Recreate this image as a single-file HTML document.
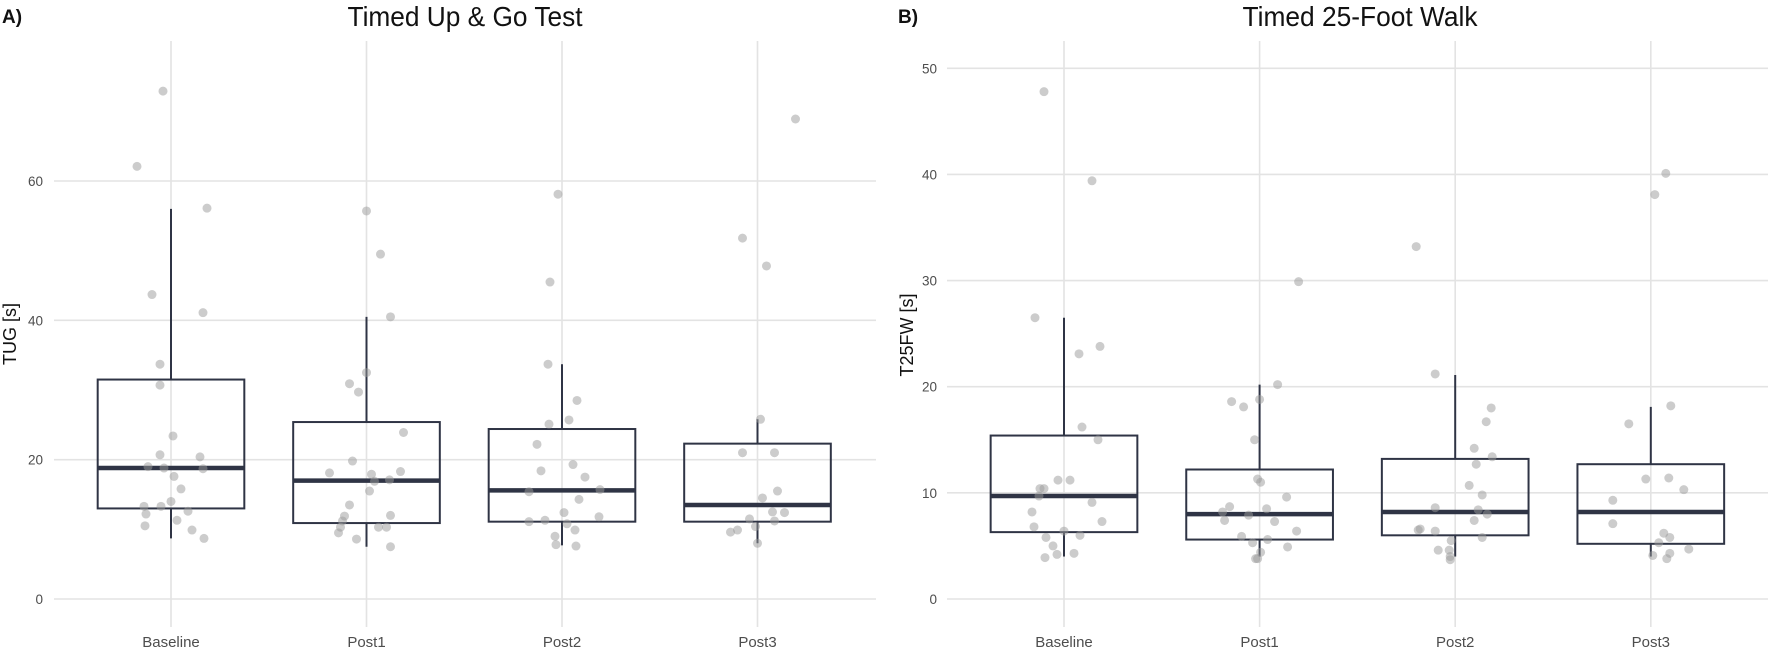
<!DOCTYPE html>
<html><head><meta charset="utf-8">
<style>
body{margin:0;background:#fff;}
svg{display:block;font-family:"Liberation Sans",sans-serif;}
</style></head>
<body>
<svg id="chart" width="1772" height="649" viewBox="0 0 1772 649" xmlns="http://www.w3.org/2000/svg"></svg>
<script>
const categories = ["Baseline","Post1","Post2","Post3"];
// Panel A: TUG box stats [lowWhisker, q1, median, q3, highWhisker]
const tugBoxes = [[8.7,13.0,18.8,31.5,56.0],[7.5,10.9,17.0,25.4,40.5],[7.7,11.1,15.6,24.4,33.7],[8.0,11.1,13.5,22.3,25.8]];
const tugPoints = [
 [72.9,62.1,56.1,43.7,41.1,33.7,30.7,23.4,20.7,20.4,19.0,18.8,18.7,17.6,15.8,14.0,13.3,13.3,12.6,12.2,11.3,10.5,9.9,8.7],
 [55.7,49.5,40.5,32.5,30.9,29.7,23.9,19.8,18.1,18.3,17.9,16.9,17.1,15.5,13.5,11.9,12.0,11.2,10.3,10.3,10.3,9.5,8.6,7.5],
 [58.1,45.5,33.7,28.5,25.7,25.1,22.2,18.4,19.3,17.5,15.4,15.7,14.3,12.4,11.8,11.1,11.3,10.8,9.9,9.0,7.8,7.6],
 [68.9,51.8,47.8,25.8,21.0,21.0,15.5,14.5,12.5,12.4,11.5,11.2,9.9,9.6,10.4,8.0]];
const tugJitter = [
 [-8,-34,36,-19,32,-11,-11,2,-11,29,-23,-7,32,3,10,0,-27,-10,17,-25,6,-26,21,33],
 [0,14,24,0,-17,-8,37,-14,-37,34,5,8,23,3,-17,-22,24,-24,-26,12,20,-28,-10,24],
 [-4,-12,-14,15,7,-13,-25,-21,11,23,-33,38,17,2,37,-33,-17,5,13,-7,-6,14],
 [38,-15,9,3,-15,17,20,5,15,27,-8,17,-20,-27,-2,0]];
const tugTicks = [0,20,40,60];
// Panel B: T25FW
const twBoxes = [[4.0,6.3,9.7,15.4,26.5],[4.0,5.6,8.0,12.2,20.2],[4.0,6.0,8.2,13.2,21.1],[4.0,5.2,8.2,12.7,18.1]];
const twPoints = [
 [47.8,39.4,26.5,23.8,23.1,16.2,15.0,11.2,11.2,10.4,10.4,9.7,9.1,8.2,7.3,6.8,6.4,6.0,5.8,5.0,4.2,4.3,3.9],
 [29.9,20.2,18.6,18.8,18.1,15.0,11.3,11.0,9.6,8.7,8.5,8.2,7.9,7.4,7.3,6.4,5.9,5.6,5.3,4.9,4.4,3.8,3.8],
 [33.2,21.2,18.0,16.7,14.2,13.4,12.7,10.7,9.8,8.6,8.4,8.0,7.4,6.5,6.6,6.4,5.8,5.5,4.6,4.6,4.0,3.7],
 [40.1,38.1,18.2,16.5,11.4,11.3,10.3,9.3,7.1,6.2,5.8,5.3,4.7,4.3,4.1,3.8]];
const twJitter = [
 [-20,28,-29,36,15,18,34,-6,6,-24,-20,-25,28,-32,38,-30,0,16,-18,-11,-7,10,-19],
 [39,18,-28,0,-16,-5,-2,1,27,-30,7,-37,-11,-35,15,37,-18,8,-7,28,1,-4,-2],
 [-39,-20,36,31,19,37,21,14,27,-20,23,32,19,-37,-35,-20,27,-4,-17,-6,-5,-5],
 [15,4,20,-22,18,-5,33,-38,-38,13,19,8,38,19,2,16]];
const twTicks = [0,10,20,30,40,50];

const NS="http://www.w3.org/2000/svg";
const svg=document.getElementById('chart');
function mk(tag,attrs,parent){const e=document.createElementNS(NS,tag);for(const k in attrs)e.setAttribute(k,attrs[k]);(parent||svg).appendChild(e);return e;}

function panel(cfg){
  const g=mk('g',{});
  
  
  const y=v=>cfg.y0-(v-0)*cfg.pxPerUnit;
  const x=i=>cfg.x0+i*cfg.band;
  cfg.ticks.forEach(t=>{
    const l=mk('line',{x1:cfg.left,x2:cfg.right,y1:y(t),y2:y(t),stroke:'#e3e3e3','stroke-width':1.6},g);
    
    
    const tx=mk('text',{x:cfg.tickX,y:y(t)+5,'text-anchor':'end','font-size':13.5,fill:'#4d4d4d'},g);
    tx.textContent=t;
    
    
  });
  categories.forEach((c,i)=>{
    const l=mk('line',{x1:x(i),x2:x(i),y1:41,y2:627,stroke:'#e3e3e3','stroke-width':1.6},g);
    
    
    const tx=mk('text',{x:x(i),y:647,'text-anchor':'middle','font-size':15,fill:'#4d4d4d'},g);
    tx.textContent=c;
    
    
  });
  cfg.boxes.forEach((b,i)=>{
    const cx=x(i), hw=cfg.band*0.375;
    const bg=mk('g',{},g);
    
    
    mk('line',{x1:cx,x2:cx,y1:y(b[4]),y2:y(b[3]),stroke:'#2f3445','stroke-width':2},bg);
    mk('line',{x1:cx,x2:cx,y1:y(b[1]),y2:y(b[0]),stroke:'#2f3445','stroke-width':2},bg);
    mk('rect',{x:cx-hw,y:y(b[3]),width:2*hw,height:y(b[1])-y(b[3]),fill:'none',stroke:'#2f3445','stroke-width':2},bg);
    mk('line',{x1:cx-hw,x2:cx+hw,y1:y(b[2]),y2:y(b[2]),stroke:'#2f3445','stroke-width':4.5},bg);
  });
  cfg.points.forEach((arr,i)=>{
    arr.forEach((v,j)=>{
      const p=mk('circle',{cx:x(i)+cfg.jitter[i][j],cy:y(v),r:4.5,fill:'#9a9a9a','fill-opacity':0.5},g);
      
      
    });
  });
  const t=mk('text',{x:cfg.titleX,y:26,'text-anchor':'middle','font-size':28,fill:'#111',textLength:235,lengthAdjust:'spacingAndGlyphs'},g);
  t.textContent=cfg.title;
  
  
  const lab=mk('text',{x:cfg.labX,y:23,'font-size':19,'font-weight':'bold',fill:'#111'},g);
  lab.textContent=cfg.label;
  
  
  const yt=mk('text',{x:0,y:0,'text-anchor':'middle','font-size':18,fill:'#111',transform:`translate(${cfg.yTitleX},${cfg.yTitleY}) rotate(-90)`},g);
  yt.textContent=cfg.yTitle;
  
  
}
panel({name:'panel-a-tug',y0:599,pxPerUnit:(599-181)/60,x0:171,band:195.5,left:54,right:876,tickX:43,ticks:tugTicks,
  boxes:tugBoxes,points:tugPoints,jitter:tugJitter,title:'Timed Up & Go Test',titleX:465,label:'A)',labX:2,yTitle:'TUG [s]',yTitleX:16,yTitleY:334});
panel({name:'panel-b-t25fw',y0:599,pxPerUnit:(599-68.3)/50,x0:1064,band:195.6,left:947,right:1768,tickX:937,ticks:twTicks,
  boxes:twBoxes,points:twPoints,jitter:twJitter,title:'Timed 25-Foot Walk',titleX:1360,label:'B)',labX:898,yTitle:'T25FW [s]',yTitleX:913,yTitleY:335});
</script>
</body></html>
